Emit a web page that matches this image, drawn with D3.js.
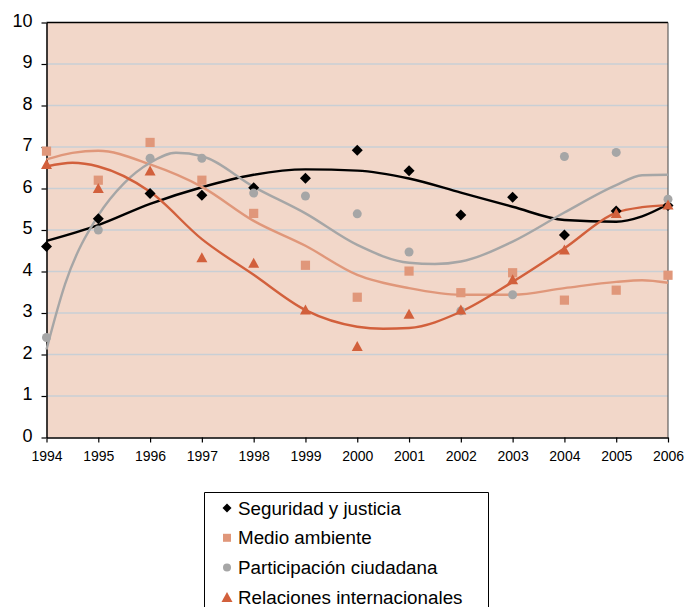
<!DOCTYPE html>
<html><head><meta charset="utf-8">
<script src="https://cdn.jsdelivr.net/npm/d3@7/dist/d3.min.js"></script>
<style>body{margin:0;background:#fff;}svg{display:block;font-family:"Liberation Sans",Arial,sans-serif;}</style>
</head><body>
<script>
const years = [1994,1995,1996,1997,1998,1999,2000,2001,2002,2003,2004,2005,2006];
const yTicks = [0,1,2,3,4,5,6,7,8,9,10];
const seriesNames = ["Seguridad y justicia","Medio ambiente","Participación ciudadana","Relaciones internacionales"];
const seguridad = [4.6,5.27,5.88,5.84,6.02,6.25,6.92,6.43,5.36,5.79,4.88,5.46,5.59];
const medio = [6.9,6.2,7.11,6.2,5.4,4.15,3.38,4.01,3.49,3.97,3.31,3.55,3.91];
const participacion = [2.41,5.0,6.73,6.73,5.89,5.82,5.39,4.47,3.05,3.44,6.77,6.87,5.74];
const relaciones = [6.58,6.0,6.42,4.33,4.2,3.07,2.19,2.97,3.07,3.8,4.52,5.4,5.6];
// trend lines: [year, value]
const trendSeguridad = [[1994,4.74],[1995,5.12],[1996,5.63],[1997,6.03],[1998,6.33],[1999,6.46],[2000,6.43],[2001,6.24],[2002,5.9],[2003,5.56],[2004,5.24],[2005,5.2],[2005.5,5.33],[2006,5.62]];
const trendMedio = [[1994,6.7],[1994.5,6.86],[1995,6.91],[1996,6.58],[1997,6.04],[1998,5.22],[1999,4.62],[2000,3.92],[2001,3.6],[2002,3.44],[2003,3.44],[2004,3.6],[2005,3.75],[2005.5,3.79],[2006,3.73]];
const trendParticipacion = [[1994,2.12],[1994.36,3.7],[1995,5.35],[1995.5,6.13],[1996,6.62],[1996.5,6.86],[1997,6.78],[1998,6.04],[1999,5.4],[2000,4.64],[2001,4.21],[2001.5,4.18],[2002,4.24],[2003,4.72],[2004,5.42],[2005,6.08],[2005.5,6.32],[2006,6.33]];
const trendRelaciones = [[1994,6.53],[1994.5,6.62],[1995,6.53],[1996,5.92],[1997,4.78],[1998,3.92],[1999,3.07],[2000,2.67],[2000.5,2.62],[2001,2.64],[2002,3.03],[2003,3.75],[2004,4.56],[2005,5.42],[2005.5,5.55],[2006,5.6]];

const colors = ["#000000","#E0977A","#A6A6A6","#D2603C"];
const W=685,H=607;
const svg=d3.select("body").append("svg").attr("width",W).attr("height",H);
const x=d3.scaleLinear().domain([1994,2006]).range([46.5,668]);
const y=d3.scaleLinear().domain([0,10]).range([437.5,22.5]);

svg.append("rect").attr("x",x(1994)).attr("y",y(10)).attr("width",x(2006)-x(1994)).attr("height",y(0)-y(10)).attr("fill","#F2D7C9");
svg.append("g").selectAll("line").data(yTicks.filter(d=>d>0&&d<10)).join("line")
  .attr("x1",x(1994)).attr("x2",x(2006)).attr("y1",d=>y(d)).attr("y2",d=>y(d))
  .attr("stroke","#C9CFD5").attr("stroke-width",1.3);
// top and right borders
svg.append("line").attr("x1",x(1994)).attr("x2",x(2006)).attr("y1",y(10)).attr("y2",y(10)).attr("stroke","#000").attr("stroke-width",1.5);
svg.append("line").attr("x1",x(2006)).attr("x2",x(2006)).attr("y1",y(10)).attr("y2",y(0)).attr("stroke","#444").attr("stroke-width",1);

const yAxis=svg.append("g").attr("transform",`translate(${x(1994)},0)`)
  .call(d3.axisLeft(y).tickValues(yTicks).tickSize(5).tickSizeOuter(0).tickPadding(9));
const xAxis=svg.append("g").attr("transform",`translate(0,${y(0)})`)
  .call(d3.axisBottom(x).tickValues(years).tickFormat(d3.format("d")).tickSize(5).tickSizeOuter(0).tickPadding(9));
[yAxis,xAxis].forEach(a=>{a.select(".domain").attr("stroke","#000").attr("stroke-width",1.5);
  a.selectAll(".tick line").attr("stroke","#000").attr("stroke-width",1.2);
  a.selectAll("text").attr("fill","#000").attr("font-family","Liberation Sans, Arial, sans-serif");});
yAxis.selectAll("text").attr("font-size",18).attr("dy","0.2em");
xAxis.selectAll("text").attr("font-size",14);

const line=d3.line().x(d=>x(d[0])).y(d=>y(d[1])).curve(d3.curveMonotoneX);
[trendSeguridad,trendMedio,trendParticipacion,trendRelaciones].forEach((t,i)=>{
  svg.append("path").datum(t).attr("d",line).attr("fill","none").attr("stroke",colors[i]).attr("stroke-width",2.4);
});

function marker(g,type,cx,cy,c){
  if(type===0) g.append("path").attr("d",`M${cx},${cy-5.5}L${cx+5.5},${cy}L${cx},${cy+5.5}L${cx-5.5},${cy}Z`).attr("fill",c);
  else if(type===1) g.append("rect").attr("x",cx-4.6).attr("y",cy-4.6).attr("width",9.2).attr("height",9.2).attr("fill",c);
  else if(type===2) g.append("circle").attr("cx",cx).attr("cy",cy).attr("r",4.5).attr("fill",c);
  else g.append("path").attr("d",`M${cx},${cy-5.5}L${cx+5.5},${cy+4.5}L${cx-5.5},${cy+4.5}Z`).attr("fill",c);
}
const mg=svg.append("g");
[seguridad,medio,participacion,relaciones].forEach((s,i)=>{
  s.forEach((v,j)=>marker(mg,i,x(years[j]),y(v),colors[i]));
});

// legend
const lg=svg.append("g");
lg.append("path").attr("d","M204.5,607 L204.5,492.5 L488.5,492.5 L488.5,607").attr("fill","none").attr("stroke","#000").attr("stroke-width",1);
seriesNames.forEach((n,i)=>{
  const cy=508+i*29.8;
  const g=lg.append("g");
  if(i===0) g.append("path").attr("d",`M227,${cy-4.5}L231.5,${cy}L227,${cy+4.5}L222.5,${cy}Z`).attr("fill",colors[0]);
  if(i===1) g.append("rect").attr("x",223).attr("y",cy-4).attr("width",8).attr("height",8).attr("fill",colors[1]);
  if(i===2) g.append("circle").attr("cx",227).attr("cy",cy).attr("r",4).attr("fill",colors[2]);
  if(i===3) g.append("path").attr("d",`M227,${cy-5.5}L232.5,${cy+4.5}L221.5,${cy+4.5}Z`).attr("fill",colors[3]);
  lg.append("text").attr("x",238).attr("y",cy+6.5).attr("font-size",18.8).attr("fill","#000").text(n);
});
</script>
</body></html>
